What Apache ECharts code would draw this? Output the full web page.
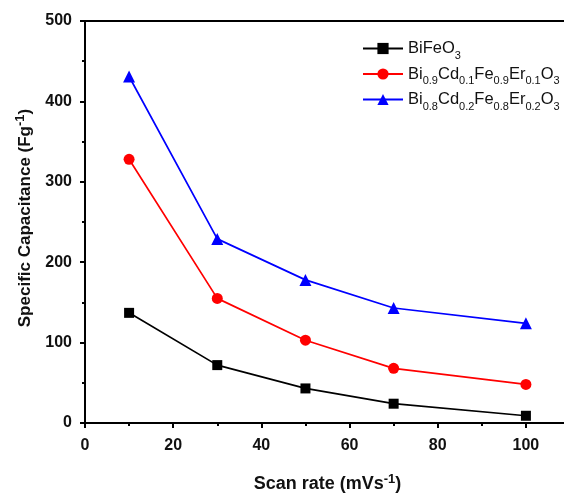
<!DOCTYPE html>
<html><head><meta charset="utf-8">
<script src="https://cdn.jsdelivr.net/npm/echarts@6/dist/echarts.min.js"></script>
<style>html,body{margin:0;padding:0;background:#fff;overflow:hidden}#c{width:564px;height:493px}</style>
</head><body><div id="c"></div>
<script>
const scanRates = [10, 30, 50, 70, 100];
const bfo = [137, 72, 43, 24, 9];
const cdEr01 = [328, 155, 103, 68, 48];
const cdEr02 = [431, 229, 178, 143, 124];
const xTicks = [0, 20, 40, 60, 80, 100];
const yTicks = [0, 100, 200, 300, 400, 500];
const names = ['BiFeO3', 'Bi0.9Cd0.1Fe0.9Er0.1O3', 'Bi0.8Cd0.2Fe0.8Er0.2O3'];
const legendRich = {
  '0': '{n|BiFeO}{s|3}',
  '1': '{n|Bi}{s|0.9}{n|Cd}{s|0.1}{n|Fe}{s|0.9}{n|Er}{s|0.1}{n|O}{s|3}',
  '2': '{n|Bi}{s|0.8}{n|Cd}{s|0.2}{n|Fe}{s|0.8}{n|Er}{s|0.2}{n|O}{s|3}'
};
const pairs = a => scanRates.map((x, i) => [x, a[i]]);
const chart = echarts.init(document.getElementById('c'), null, {renderer: 'canvas'});
const mk = (name, data, color, symbol, size) => ({
  name, type: 'line', data: pairs(data), symbol, symbolSize: size,
  itemStyle: {color}, lineStyle: {color, width: 1.7}, showSymbol: true, animation: false
});
const mkRich = (fs, ss) => ({
  n: {fontFamily: 'Liberation Sans, Arial', fontWeight: 'bold', fontSize: fs, color: '#111', verticalAlign: 'bottom', lineHeight: fs + 2},
  s: {fontFamily: 'Liberation Sans, Arial', fontWeight: 'bold', fontSize: ss, color: '#111', verticalAlign: 'top', lineHeight: fs + 2, padding: [0, 0, 7, 0]}
});
chart.setOption({
  backgroundColor: '#fff',
  animation: false,
  grid: {left: 85, width: 485, top: 21, height: 402, outerBoundsMode: 'none', containLabel: false,
    show: true, borderColor: '#000', borderWidth: 2, backgroundColor: 'transparent'},
  legend: {
    left: 357, top: 35, orient: 'vertical', itemWidth: 40, itemHeight: 14, itemGap: 4.5,
    formatter: n => legendRich[names.indexOf(n)],
    textStyle: {
      fontFamily: 'Liberation Sans, Arial', color: '#111',
      rich: {
        n: {fontSize: 16.5, fontFamily: 'Liberation Sans, Arial', color: '#111', verticalAlign: 'bottom', lineHeight: 17},
        s: {fontSize: 11, fontFamily: 'Liberation Sans, Arial', color: '#111', verticalAlign: 'bottom', lineHeight: 10, padding: [0, 0, -4, 0]}
      }
    }
  },
  xAxis: {
    type: 'value', min: 0, max: 110, interval: 20,
    axisLine: {onZero: false, lineStyle: {color: '#000', width: 2}},
    axisTick: {inside: false, length: 5, lineStyle: {color: '#000', width: 2}},
    minorTick: {show: true, splitNumber: 2, length: 3, lineStyle: {color: '#000', width: 2}},
    splitLine: {show: false},
    axisLabel: {fontFamily: 'Liberation Sans, Arial', fontWeight: 'bold', fontSize: 16, color: '#111', margin: 15,
      formatter: v => xTicks.includes(v) ? String(v) : ''},
    name: '{n|Scan rate (mVs}{s|-1}{n|)}', nameLocation: 'middle', nameGap: 50,
    nameTextStyle: {rich: mkRich(18, 13)}
  },
  yAxis: {
    type: 'value', min: 0, max: 500, interval: 100,
    axisLine: {onZero: false, lineStyle: {color: '#000', width: 2}},
    axisTick: {inside: false, length: 5, lineStyle: {color: '#000', width: 2}},
    minorTick: {show: true, splitNumber: 2, length: 3, lineStyle: {color: '#000', width: 2}},
    splitLine: {show: false},
    axisLabel: {fontFamily: 'Liberation Sans, Arial', fontWeight: 'bold', fontSize: 16, color: '#111', margin: 13,
      formatter: v => yTicks.includes(v) ? String(v) : ''},
    name: '{n|Specific Capacitance (Fg}{s|-1}{n|)}', nameLocation: 'middle', nameGap: 48, nameRotate: 90,
    nameTextStyle: {rich: mkRich(17, 13), padding: [0, 0, 0, 8]}
  },
  series: [
    mk(names[0], bfo, '#000000', 'rect', 10),
    mk(names[1], cdEr01, '#ff0000', 'circle', 11),
    mk(names[2], cdEr02, '#0000ff', 'triangle', 12)
  ]
});
</script></body></html>
